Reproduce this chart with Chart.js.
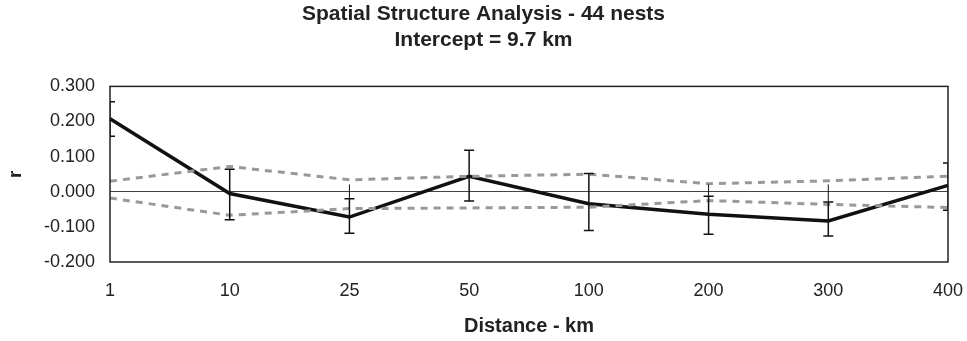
<!DOCTYPE html>
<html>
<head>
<meta charset="utf-8">
<script src="https://cdn.jsdelivr.net/npm/chart.js@4"></script>
<style>
  html, body { margin: 0; padding: 0; background: #fff; }
  #box { width: 967px; height: 341px; }
</style>
</head>
<body>
<div id="box"><canvas id="myChart"></canvas></div>
<script>
const distances = ['1', '10', '25', '50', '100', '200', '300', '400'];
const rValues = [0.208, -0.005, -0.072, 0.044, -0.034, -0.064, -0.083, 0.018];
const errHigh = [0.256, 0.064, -0.020, 0.118, 0.052, -0.013, -0.029, 0.082];
const errLow = [0.158, -0.080, -0.118, -0.026, -0.110, -0.121, -0.126, -0.053];
const errTop = [null, null, 0.021, null, null, 0.021, 0.021, null];
const upperLimit = [0.030, 0.072, 0.034, 0.044, 0.050, 0.023, 0.031, 0.044];
const lowerLimit = [-0.018, -0.067, -0.048, -0.046, -0.044, -0.025, -0.036, -0.045];

const FONT = "'Liberation Sans', Arial, sans-serif";

// error bars + frame around the plot area
const errorBars = {
  id: 'errorBars',
  afterDatasetsDraw(chart) {
    const { ctx, chartArea, scales } = chart;
    const x = scales.x, y = scales.y;
    ctx.save();
    ctx.beginPath();
    ctx.rect(chartArea.left, chartArea.top, chartArea.right - chartArea.left, chartArea.bottom - chartArea.top);
    ctx.clip();
    ctx.strokeStyle = '#111';
    ctx.lineWidth = 1.5;
    distances.forEach((d, i) => {
      const px = x.getPixelForValue(i);
      const hi = y.getPixelForValue(errHigh[i]);
      const lo = y.getPixelForValue(errLow[i]);
      ctx.beginPath();
      ctx.moveTo(px, hi);
      ctx.lineTo(px, lo);
      ctx.moveTo(px - 5, hi);
      ctx.lineTo(px + 5, hi);
      ctx.moveTo(px - 5, lo);
      ctx.lineTo(px + 5, lo);
      ctx.stroke();
      if (errTop[i] !== null) {
        ctx.lineWidth = 1;
        ctx.beginPath();
        ctx.moveTo(px, hi);
        ctx.lineTo(px, y.getPixelForValue(errTop[i]));
        ctx.stroke();
        ctx.lineWidth = 1.5;
      }
    });
    ctx.restore();

    ctx.save();
    ctx.strokeStyle = '#222';
    ctx.lineWidth = 1.5;
    ctx.strokeRect(chartArea.left, chartArea.top, chartArea.right - chartArea.left, chartArea.bottom - chartArea.top);
    ctx.restore();
  }
};

new Chart(document.getElementById('myChart'), {
  type: 'line',
  data: {
    labels: distances,
    datasets: [
      {
        label: 'Upper limit',
        data: upperLimit,
        borderColor: '#999',
        borderWidth: 3,
        borderDash: [7, 6],
        pointRadius: 0,
        tension: 0,
      },
      {
        label: 'Lower limit',
        data: lowerLimit,
        borderColor: '#999',
        borderWidth: 3,
        borderDash: [7, 6],
        pointRadius: 0,
        tension: 0,
      },
      {
        label: 'r',
        data: rValues,
        borderColor: '#111',
        borderWidth: 3.5,
        pointRadius: 0,
        tension: 0,
      },
    ],
  },
  options: {
    responsive: true,
    maintainAspectRatio: false,
    animation: false,
    layout: { padding: { left: 0, right: 0, top: 0, bottom: 0 } },
    plugins: {
      legend: { display: false },
      tooltip: { enabled: false },
      title: {
        display: true,
        text: ['Spatial Structure Analysis - 44 nests', 'Intercept = 9.7 km'],
        color: '#222',
        font: { family: FONT, size: 21, weight: 'bold', lineHeight: 1.2 },
        padding: { top: 2, bottom: 34 },
      },
    },
    scales: {
      x: {
        offset: false,
        grid: { display: false, drawTicks: false },
        border: { display: false },
        ticks: {
          color: '#222',
          font: { family: FONT, size: 18 },
          padding: 18,
          maxRotation: 0,
        },
        title: {
          display: true,
          text: 'Distance - km',
          color: '#222',
          font: { family: FONT, size: 20, weight: 'bold' },
          padding: { top: 2, bottom: 3 },
        },
        afterFit(scale) {
          scale.height = 79;
          scale.paddingLeft = 0;
          scale.paddingRight = 19;
        },
      },
      y: {
        min: -0.2,
        max: 0.3,
        grid: {
          drawTicks: false,
          color: ctx => (ctx.tick && ctx.tick.value === 0 ? '#444' : 'rgba(0,0,0,0)'),
          lineWidth: 1,
        },
        border: { display: false },
        ticks: {
          stepSize: 0.1,
          color: '#222',
          font: { family: FONT, size: 18 },
          padding: 15,
          callback: v => v.toFixed(3),
        },
        title: {
          display: true,
          text: 'r',
          color: '#222',
          font: { family: FONT, size: 19, weight: 'bold' },
          padding: { top: 4, bottom: 4 },
        },
        afterFit(scale) { scale.width = 110; },
      },
    },
  },
  plugins: [errorBars],
});
</script>
</body>
</html>
